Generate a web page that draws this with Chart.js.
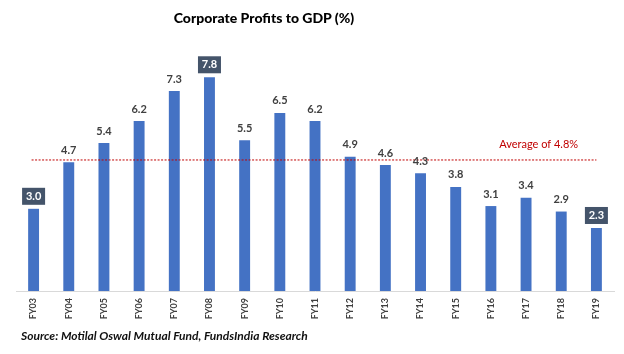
<!DOCTYPE html>
<html>
<head>
<meta charset="utf-8">
<script src="https://cdn.jsdelivr.net/npm/chart.js@4.4.0/dist/chart.umd.min.js"></script>
<style>
  html, body { margin: 0; padding: 0; background: #fff; }
  #wrap { position: relative; width: 624px; height: 354px; }
  #title { position: absolute; left: 0; width: 528px; top: 9px; text-align: center;
           font: 900 14px Lato, "Open Sans", sans-serif; color: #000; }
  #source { position: absolute; left: 21px; top: 328px;
            font: italic bold 12px Lato, "Open Sans", sans-serif; color: #111; }
</style>
</head>
<body>
<div id="wrap">
  <canvas id="chart" width="624" height="354"></canvas>
  <div id="title">Corporate Profits to GDP (%)</div>
  <div id="source">Source: Motilal Oswal Mutual Fund, FundsIndia Research</div>
</div>
<script>
// données
const years = ['FY03', 'FY04', 'FY05', 'FY06', 'FY07', 'FY08', 'FY09', 'FY10', 'FY11',
               'FY12', 'FY13', 'FY14', 'FY15', 'FY16', 'FY17', 'FY18', 'FY19'];
const profitsToGdp = [3.0, 4.7, 5.4, 6.2, 7.3, 7.8, 5.5, 6.5, 6.2, 4.9, 4.6, 4.3, 3.8, 3.1, 3.4, 2.9, 2.3];
const highlighted = ['FY03', 'FY08', 'FY19'];
const averageValue = 4.8;
const averageLabel = 'Average of 4.8%';

const BAR_BLUE = '#4472C4';
const BOX_SLATE = '#44546A';

// étiquettes de valeurs + ligne moyenne
const labelsPlugin = {
    id: 'valueLabels',
    afterDatasetsDraw(chart) {
        const ctx = chart.ctx;
        const xs = chart.scales.x, ys = chart.scales.y;
        const meta = chart.getDatasetMeta(0);

        // ligne pointillée de la moyenne
        const yAvg = ys.getPixelForValue(averageValue);
        ctx.save();
        ctx.strokeStyle = '#C00000';
        ctx.lineWidth = 1;
        ctx.setLineDash([2, 1.5]);
        ctx.beginPath();
        ctx.moveTo(xs.getPixelForValue(0) - 2, yAvg + 0.5);
        ctx.lineTo(xs.getPixelForValue(years.length - 1), yAvg + 0.5);
        ctx.stroke();
        ctx.setLineDash([]);
        ctx.fillStyle = '#C00000';
        ctx.font = '11px Lato, "Open Sans", sans-serif';
        ctx.textAlign = 'center';
        ctx.textBaseline = 'middle';
        const xLbl = (xs.getPixelForValue(14) + xs.getPixelForValue(15)) / 2 - 5;
        ctx.fillText(averageLabel, xLbl, yAvg - 15);

        meta.data.forEach((bar, i) => {
            const txt = profitsToGdp[i].toFixed(1);
            ctx.font = 'bold 11px Lato, "Open Sans", sans-serif';
            if (highlighted.includes(years[i])) {
                const w = 23, h = 17;
                ctx.fillStyle = BOX_SLATE;
                ctx.fillRect(bar.x - w / 2, bar.y - 4 - h, w, h);
                ctx.fillStyle = '#fff';
                ctx.fillText(txt, bar.x, bar.y - 4 - h / 2);
            } else {
                ctx.fillStyle = '#404040';
                ctx.fillText(txt, bar.x, bar.y - 12);
            }
        });
        ctx.restore();
    }
};

new Chart(document.getElementById('chart'), {
    type: 'bar',
    data: {
        labels: years,
        datasets: [{
            data: profitsToGdp,
            backgroundColor: BAR_BLUE,
            borderWidth: 0,
            barPercentage: 0.62,
            categoryPercentage: 0.5
        }]
    },
    options: {
        responsive: false, animation: false,
        layout: { padding: { left: 16, right: 10, top: 17, bottom: 0 } },
        plugins: { legend: { display: false }, tooltip: { enabled: false } },
        scales: {
            x: {
                grid: { display: false, drawTicks: false },
                border: { display: true, color: '#d9d9d9', width: 1 },
                ticks: {
                    minRotation: 90, maxRotation: 90, padding: 7,
                    color: '#404040',
                    font: { family: 'Lato, "Open Sans", sans-serif', size: 9, weight: 'bold' }
                },
                afterFit(scale) { scale.height = 63; }
            },
            y: { display: false, min: 0, max: 10 }
        }
    },
    plugins: [labelsPlugin]
});
</script>
</body>
</html>
